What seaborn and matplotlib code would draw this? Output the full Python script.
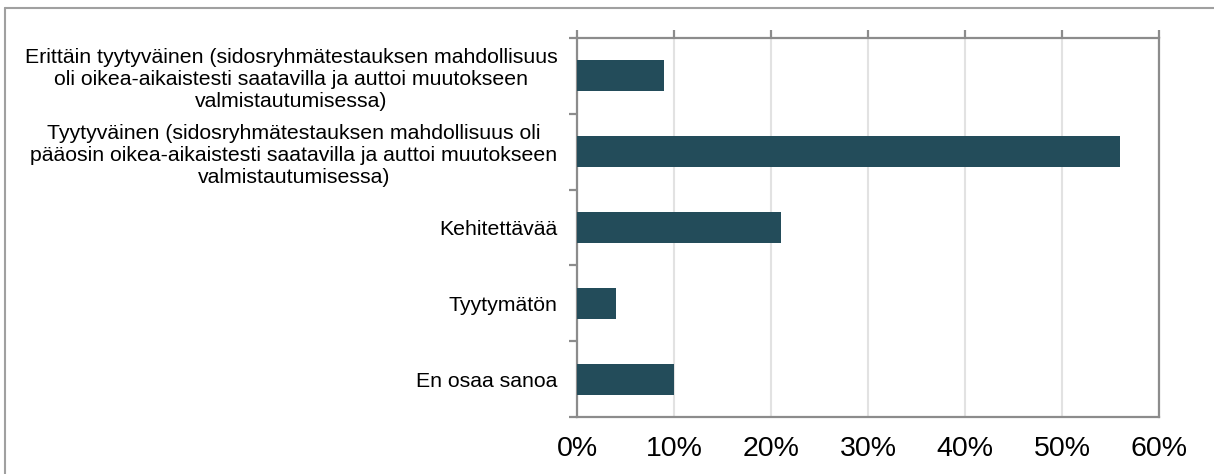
import matplotlib
matplotlib.use("Agg")
import matplotlib.pyplot as plt
import seaborn as sns
import pandas as pd
import numpy as np
from matplotlib.lines import Line2D
from matplotlib.ticker import FuncFormatter

categories = [
    "Erittäin tyytyväinen (sidosryhmätestauksen mahdollisuus\noli oikea-aikaistesti saatavilla ja auttoi muutokseen\nvalmistautumisessa)",
    "Tyytyväinen (sidosryhmätestauksen mahdollisuus oli\npääosin oikea-aikaistesti saatavilla ja auttoi muutokseen\nvalmistautumisessa)",
    "Kehitettävää",
    "Tyytymätön",
    "En osaa sanoa",
]
values = [9, 56, 21, 4, 10]
x_ticks = [0, 10, 20, 30, 40, 50, 60]

sns.set_style("white")
plt.rcParams['font.family'] = ['Liberation Sans', 'DejaVu Sans']

df = pd.DataFrame({"category": categories, "value": values})

fig = plt.figure(figsize=(12.14, 4.74), dpi=100)
ax = fig.add_axes([577/1214, 1-417/474, (1159-577)/1214, (417-38)/474])

sns.barplot(data=df, x="value", y="category", orient="h", color="#234c5a",
            width=0.41, saturation=1, linewidth=0, ax=ax, zorder=3)

ax.set_xlim(0, 60)
ax.set_ylim(4.5, -0.5)
ax.set_xticks(x_ticks)
ax.xaxis.set_major_formatter(FuncFormatter(lambda v, p: f"{v:.0f}%"))
ax.grid(axis="x", color="#e2e2e2", linewidth=1.5, zorder=0)
ax.grid(axis="y", visible=False)
ax.set_axisbelow(True)
ax.set_xlabel("")
ax.set_ylabel("")

for s in ax.spines.values():
    s.set_visible(True)
    s.set_color("#8c8c8c")
    s.set_linewidth(1.6)

ax.tick_params(axis="x", bottom=False, top=True, labelbottom=True, labeltop=False,
               direction="out", length=6, width=1.6, color="#8c8c8c",
               labelsize=20.5, pad=8, labelcolor="black")
ax.set_yticks(np.arange(-0.5, 5, 1), minor=True)
ax.tick_params(axis="y", which="minor", left=True, direction="out", length=6,
               width=1.6, color="#8c8c8c")
ax.tick_params(axis="y", which="major", left=True, length=0, pad=14,
               labelsize=15.3, labelcolor="black")
for lab in ax.get_yticklabels():
    lab.set_multialignment("center")
    lab.set_linespacing(1.2)

# figure border
fig.add_artist(Line2D([5/1214, 1.0], [1-8/474, 1-8/474], transform=fig.transFigure,
                      color="#a0a0a0", linewidth=1.5))
fig.add_artist(Line2D([5/1214, 5/1214], [0, 1-8/474], transform=fig.transFigure,
                      color="#a0a0a0", linewidth=1.5))

fig.savefig("out.png", dpi=100)
